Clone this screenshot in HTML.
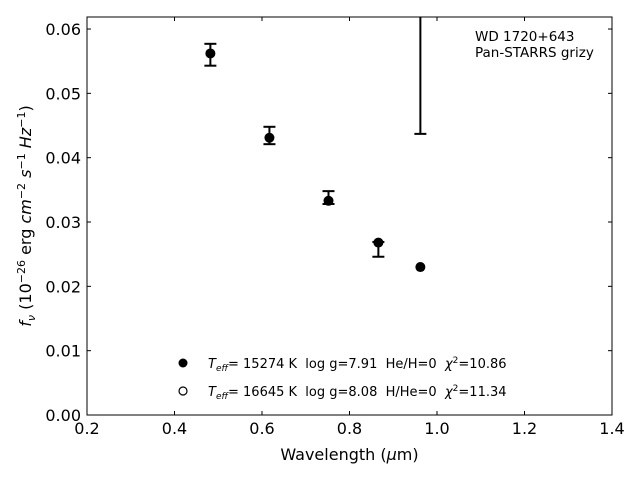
<!DOCTYPE html>
<html><head><meta charset="utf-8"><style>
body{margin:0;background:#fff;font-family:"DejaVu Sans","Liberation Sans",sans-serif;}
svg text{font-family:"DejaVu Sans","Liberation Sans",sans-serif;fill:#000;white-space:pre}
</style></head><body>
<svg id="chart" width="640" height="480" xmlns="http://www.w3.org/2000/svg" xml:space="preserve">
<rect x="0" y="0" width="640" height="480" fill="#fff"/>
<defs><clipPath id="clip"><rect x="87" y="17" width="525" height="398"/></clipPath></defs>
<g id="ticks"></g>
<g id="marks" clip-path="url(#clip)"></g>
<rect x="87" y="17" width="525" height="398" fill="none" stroke="#000" stroke-width="1"/>
<text x="349.5" y="460" font-size="16" text-anchor="middle">Wavelength (<tspan font-style="italic">μ</tspan>m)</text>
<text transform="translate(31,216) rotate(-90)" font-size="16" text-anchor="middle"><tspan font-style="italic">f</tspan><tspan font-style="italic" font-size="11" dy="4">ν</tspan><tspan dy="-4"> (10</tspan><tspan font-size="11" dy="-6">−26</tspan><tspan dy="6"> erg </tspan><tspan font-style="italic">cm</tspan><tspan font-size="11" dy="-6">−2</tspan><tspan dy="6"> </tspan><tspan font-style="italic">s</tspan><tspan font-size="11" dy="-6">−1</tspan><tspan dy="6"> </tspan><tspan font-style="italic">Hz</tspan><tspan font-size="11" dy="-6">−1</tspan><tspan dy="6">)</tspan></text>
<text x="475" y="41" font-size="13.5">WD 1720+643</text>
<text x="475" y="57" font-size="13.5">Pan-STARRS grizy</text>
<g>
<circle cx="183" cy="363" r="4.5" fill="#000"/>
<text x="208" y="368" font-size="13"><tspan font-style="italic">T</tspan><tspan font-style="italic" font-size="9" dy="3">eff</tspan><tspan dy="-3">= 15274 K  log g=7.91  He/H=0  </tspan><tspan font-style="italic">χ</tspan><tspan font-size="9" dy="-5">2</tspan><tspan dy="5">=10.86</tspan></text>
<circle cx="183" cy="391" r="4" fill="#fff" stroke="#000" stroke-width="1.2"/>
<text x="208" y="396" font-size="13"><tspan font-style="italic">T</tspan><tspan font-style="italic" font-size="9" dy="3">eff</tspan><tspan dy="-3">= 16645 K  log g=8.08  H/He=0  </tspan><tspan font-style="italic">χ</tspan><tspan font-size="9" dy="-5">2</tspan><tspan dy="5">=11.34</tspan></text>
</g>
</svg>
<script>
const wavelengths=[0.482,0.617,0.752,0.866,0.962];
const fluxes=[0.0562,0.0431,0.0333,0.0268,0.0230];
const errLow=[0.0543,0.0421,0.0328,0.0246,0.0437];
const errHigh=[0.0577,0.0448,0.0348,0.0269,0.0700];
const xTicks=[0.2,0.4,0.6,0.8,1.0,1.2,1.4];
const xTickLabels=["0.2","0.4","0.6","0.8","1.0","1.2","1.4"];
const yTicks=[0,0.01,0.02,0.03,0.04,0.05,0.06];
const yTickLabels=["0.00","0.01","0.02","0.03","0.04","0.05","0.06"];
const NS="http://www.w3.org/2000/svg";
const X=v=>87+(v-0.2)/1.2*525;
const Y=v=>415-v*6433;
function mk(t,a,p){const e=document.createElementNS(NS,t);for(const k in a)e.setAttribute(k,a[k]);p.appendChild(e);return e;}
const tg=document.getElementById('ticks'),mg=document.getElementById('marks');
xTicks.forEach((v,i)=>{const x=X(v);
const l=mk('line',{x1:x,x2:x,y1:415,y2:411,stroke:'#000'},tg);


const l2=mk('line',{x1:x,x2:x,y1:17,y2:21,stroke:'#000'},tg);


const t=mk('text',{x:x,y:434,'font-size':16,'text-anchor':'middle'},tg);t.textContent=xTickLabels[i];

});
yTicks.forEach((v,i)=>{const y=Y(v);
const l=mk('line',{x1:87,x2:91,y1:y,y2:y,stroke:'#000'},tg);


const l2=mk('line',{x1:608,x2:612,y1:y,y2:y,stroke:'#000'},tg);


const t=mk('text',{x:81,y:y+6,'font-size':16,'text-anchor':'end'},tg);t.textContent=yTickLabels[i];

});
wavelengths.forEach((w,i)=>{const x=X(w);
const g=mk('g',{},mg);


mk('line',{x1:x,x2:x,y1:Y(errLow[i]),y2:Y(errHigh[i]),stroke:'#000','stroke-width':2},g);
mk('line',{x1:x-6,x2:x+6,y1:Y(errLow[i]),y2:Y(errLow[i]),stroke:'#000','stroke-width':2},g);
mk('line',{x1:x-6,x2:x+6,y1:Y(errHigh[i]),y2:Y(errHigh[i]),stroke:'#000','stroke-width':2},g);
mk('circle',{cx:x,cy:Y(fluxes[i]),r:5,fill:'#000'},g);});
</script>
</body></html>
